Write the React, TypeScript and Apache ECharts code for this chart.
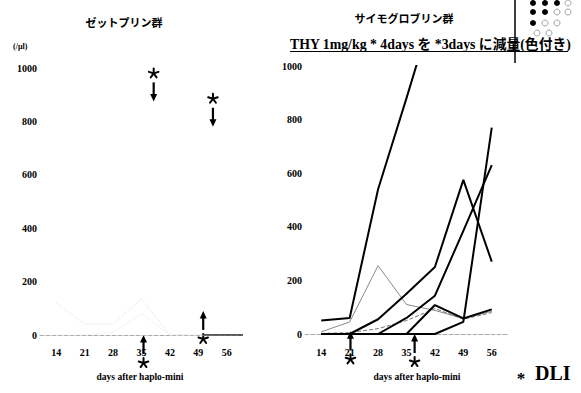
import React, { useEffect, useRef } from "react";
import * as echarts from "echarts";

// ---- data ----
const days = [14, 21, 28, 35, 42, 49, 56];
const xTickLabels = [14, 21, 28, 35, 42, 49, 56];

// ゼットプリン群 (left) – almost everything near zero
const zetFaintA = [120, 40, 42, 135, 0, 0, 0];
const zetFaintB = [0, 0, 10, 80, 0, 0, 0];
const zetBaseDays = [50, 60];
const zetBaseValues = [0, 0];

// サイモグロブリン群 (right)
const thy1 = [50, 60, 540, 880, 1230, null, null];
const thy2 = [0, 0, 55, 150, 250, 575, 270];
const thy3 = [0, 0, 0, 60, 143, 385, 630];
const thy4 = [0, 0, 0, 0, 0, 45, 770];
const thy5 = [null, null, null, 0, 108, 58, 92];
const thy6 = [8, 45, 255, 110, 88, 58, 85];
const thy7 = [2, 5, 20, 50, 95, 55, 80];

// DLI markers [day, value at arrow tip]
const zetDliUp = [[35.5, 0], [50.2, 90]];
const zetDliDown = [[38, 875], [52.6, 780]];
const thyDliUp = [[21.2, 10], [37, 0]];

const yTicks = { min: 0, max: 1000, interval: 200 };

const toPairs = (xs: number[], ys: (number | null)[]) =>
  xs.map((x, i) => [x, ys[i]]).filter((p) => p[1] !== null);

const serif = "Liberation Serif, 'Times New Roman', serif";
const jp = "'Noto Sans CJK JP', sans-serif";

function lineSeries(idx: number, values: (number | null)[], style: any, xs = days) {
  return {
    type: "line",
    xAxisIndex: idx,
    yAxisIndex: idx,
    data: toPairs(xs, values),
    symbol: "none",
    lineStyle: style,
    clip: true,
    silent: true,
  };
}

export default function App() {
  const ref = useRef<HTMLDivElement>(null);
  useEffect(() => {
    document.body.style.margin = "0";
    const chart = echarts.init(ref.current!, null, { renderer: "svg" });
    const axisLabel = {
      fontSize: 10,
      fontWeight: "bold",
      fontFamily: serif,
      color: "#000",
      formatter: (v: number) => String(v),
    };
    const xAxis = [0, 1].map((i) => ({
      type: "value",
      gridIndex: i,
      min: 10,
      max: 60,
      axisLine: { show: true, lineStyle: { color: "#aaa", type: "dashed", width: 1 } },
      axisTick: { show: false },
      splitLine: { show: false },
      axisLabel: { ...axisLabel, margin: i === 0 ? 12 : 13, customValues: xTickLabels },
    }));
    const yAxis = [0, 1].map((i) => ({
      type: "value",
      gridIndex: i,
      ...yTicks,
      axisLine: { show: false },
      axisTick: { show: false },
      splitLine: { show: false },
      axisLabel: { ...axisLabel, margin: 3 },
    }));
    const bold = { color: "#000", width: 2 };
    const option: any = {
      animation: false,
      backgroundColor: "#fff",
      grid: [
        { left: 40, top: 68, width: 203, height: 267 },
        { left: 305, top: 66, width: 203, height: 268 },
      ],
      xAxis,
      yAxis,
      series: [
        lineSeries(0, zetFaintA, { color: "#e2e2e2", width: 1, type: "dotted" }),
        lineSeries(0, zetFaintB, { color: "#e6e6e6", width: 1, type: "dotted" }),
        lineSeries(0, zetBaseValues, { color: "#222", width: 1.5 }, zetBaseDays),
        lineSeries(1, thy6, { color: "#888", width: 1 }),
        lineSeries(1, thy7, { color: "#777", width: 1, type: "dashed" }),
        lineSeries(1, thy1, bold),
        lineSeries(1, thy2, bold),
        lineSeries(1, thy3, bold),
        lineSeries(1, thy4, bold),
        lineSeries(1, thy5, bold),
      ],
    };
    chart.setOption(option);

    const px = (g: number, p: number[]) =>
      chart.convertToPixel({ xAxisIndex: g, yAxisIndex: g }, p) as number[];

    // five-armed asterisk drawn as lines
    const star = (cx: number, cy: number) => {
      const r = 5;
      const arms = [0, 1, 2, 3, 4].map((k) => {
        const a = -Math.PI / 2 + (k * 2 * Math.PI) / 5;
        return {
          type: "line",
          shape: { x1: cx, y1: cy, x2: cx + r * Math.cos(a), y2: cy + r * Math.sin(a) },
          style: { stroke: "#000", lineWidth: 2, lineCap: "round" },
        };
      });
      return { type: "group", children: arms };
    };
    const arrow = (x: number, yTip: number, dir: number) => {
      // dir = -1: pointing up (tail below), 1: pointing down (tail above)
      const s = -dir;
      return [
        {
          type: "line",
          shape: { x1: x, y1: yTip + s * 5, x2: x, y2: yTip + s * 19 },
          style: { stroke: "#000", lineWidth: 2.2 },
        },
        {
          type: "polygon",
          shape: { points: [[x, yTip], [x - 3.5, yTip + s * 7.5], [x + 3.5, yTip + s * 7.5]] },
          style: { fill: "#000" },
        },
        star(x, yTip + s * 28),
      ];
    };

    const graphics: any[] = [];
    zetDliUp.forEach((d) => {
      const p = px(0, d);
      graphics.push(...arrow(p[0], p[1], -1));
    });
    zetDliDown.forEach((d) => {
      const p = px(0, d);
      graphics.push(...arrow(p[0], p[1], 1));
    });
    thyDliUp.forEach((d) => {
      const p = px(1, d);
      graphics.push(...arrow(p[0], p[1], -1));
    });

    const txt = (text: string, x: number, y: number, size: number, family: string, align = "center", extra: any = {}) => ({
      type: "text",
      x,
      y,
      style: {
        text,
        fontSize: size,
        fontWeight: "bold",
        fontFamily: family,
        fill: "#000",
        align,
        verticalAlign: "middle",
        ...extra,
      },
    });

    graphics.push(txt("ゼットプリン群", 124, 22, 11, jp));
    graphics.push(txt("サイモグロブリン群", 404, 18, 11, jp));
    graphics.push(txt("(/μl)", 13, 46, 8, serif, "left"));
    graphics.push(txt("days after haplo-mini", 140, 377, 9.5, serif));
    graphics.push(txt("days after haplo-mini", 417, 377, 9.5, serif));
    graphics.push(
      txt("THY 1mg/kg * 4days を *3days に減量(色付き)", 290, 44, 13.8, serif + ", " + jp, "left")
    );
    graphics.push({
      type: "line",
      shape: { x1: 290, y1: 51.5, x2: 568, y2: 51.5 },
      style: { stroke: "#000", lineWidth: 1.2 },
    });
    // DLI legend
    graphics.push(txt("*", 521, 378, 17, serif));
    graphics.push(txt("DLI", 535, 373, 20, serif, "left"));

    // legend fragment top right
    graphics.push({
      type: "line",
      shape: { x1: 515, y1: 0, x2: 515, y2: 63 },
      style: { stroke: "#000", lineWidth: 1.5 },
    });
    const dotRows = [
      { y: 3, xs: [533, 545, 557, 568], filled: [1, 1, 1, 0] },
      { y: 12, xs: [533, 545, 557, 568], filled: [1, 1, 0, 0] },
      { y: 23, xs: [533, 545, 557], filled: [1, 0, 0] },
      { y: 33, xs: [537, 549], filled: [0, 0] },
    ];
    dotRows.forEach((r) =>
      r.xs.forEach((x, i) =>
        graphics.push({
          type: "circle",
          shape: { cx: x, cy: r.y, r: 3 },
          style: r.filled[i]
            ? { fill: "#000" }
            : { fill: "#fff", stroke: "#888", lineWidth: 0.8 },
        })
      )
    );

    chart.setOption({ graphic: graphics });
    return () => chart.dispose();
  }, []);
  return <div ref={ref} style={{ width: 581, height: 393 }} />;
}
